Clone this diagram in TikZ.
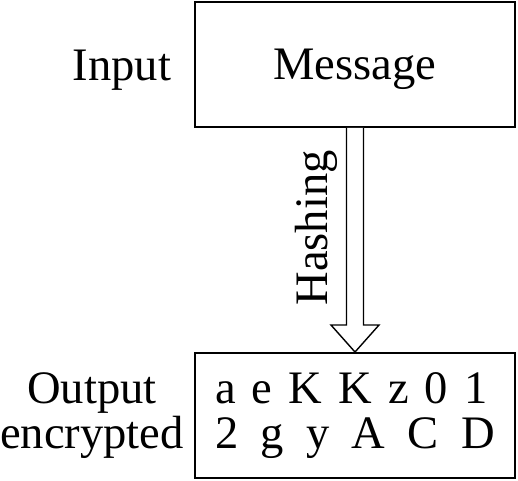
\documentclass[tikz,border=0pt]{standalone}
\usepackage{fontspec}
\setmainfont{Liberation Serif}
\usetikzlibrary{positioning, calc}
\tikzset{
  box/.style={rectangle, draw=black, fill=white,
    minimum width=6.4cm, minimum height=2.5cm, inner sep=0pt,
    font=\fontsize{26.5}{25.5}\selectfont, line width=1.1pt},
  side/.style={inner sep=0pt, font=\fontsize{26.5}{25.5}\selectfont},
  hollow/.style={draw=black, fill=white, line width=0.8pt, line join=miter}
}
\begin{document}
\begin{tikzpicture}
  \useasboundingbox (0,0) rectangle (10.36,9.62);

  \node[box, text depth=0pt] (msg) at (7.1,8.33) {Message};
  \node[box, align=left] (out) at (7.1,1.31)
    {\makebox[5.45cm][s]{a e K K z 0 1}\\\makebox[5.6cm][s]{2 g y A C D}};

  \node[side] (input) at (2.44,8.22) {Input};
  \node[side, align=center] (output) at (1.84,1.31) {Output\\encrypted};

  % hollow arrow
  \draw[hollow] ($(msg.south)+(-0.17,0)$) -- ($(out.north)+(-0.17,0.54)$)
    -- ($(out.north)+(-0.48,0.54)$) -- (out.north)
    -- ($(out.north)+(0.48,0.54)$) -- ($(out.north)+(0.17,0.54)$)
    -- ($(msg.south)+(0.17,0)$);
  \node[side, rotate=90] (hash) at (6.32,5.06) {Hashing};
\end{tikzpicture}
\end{document}
